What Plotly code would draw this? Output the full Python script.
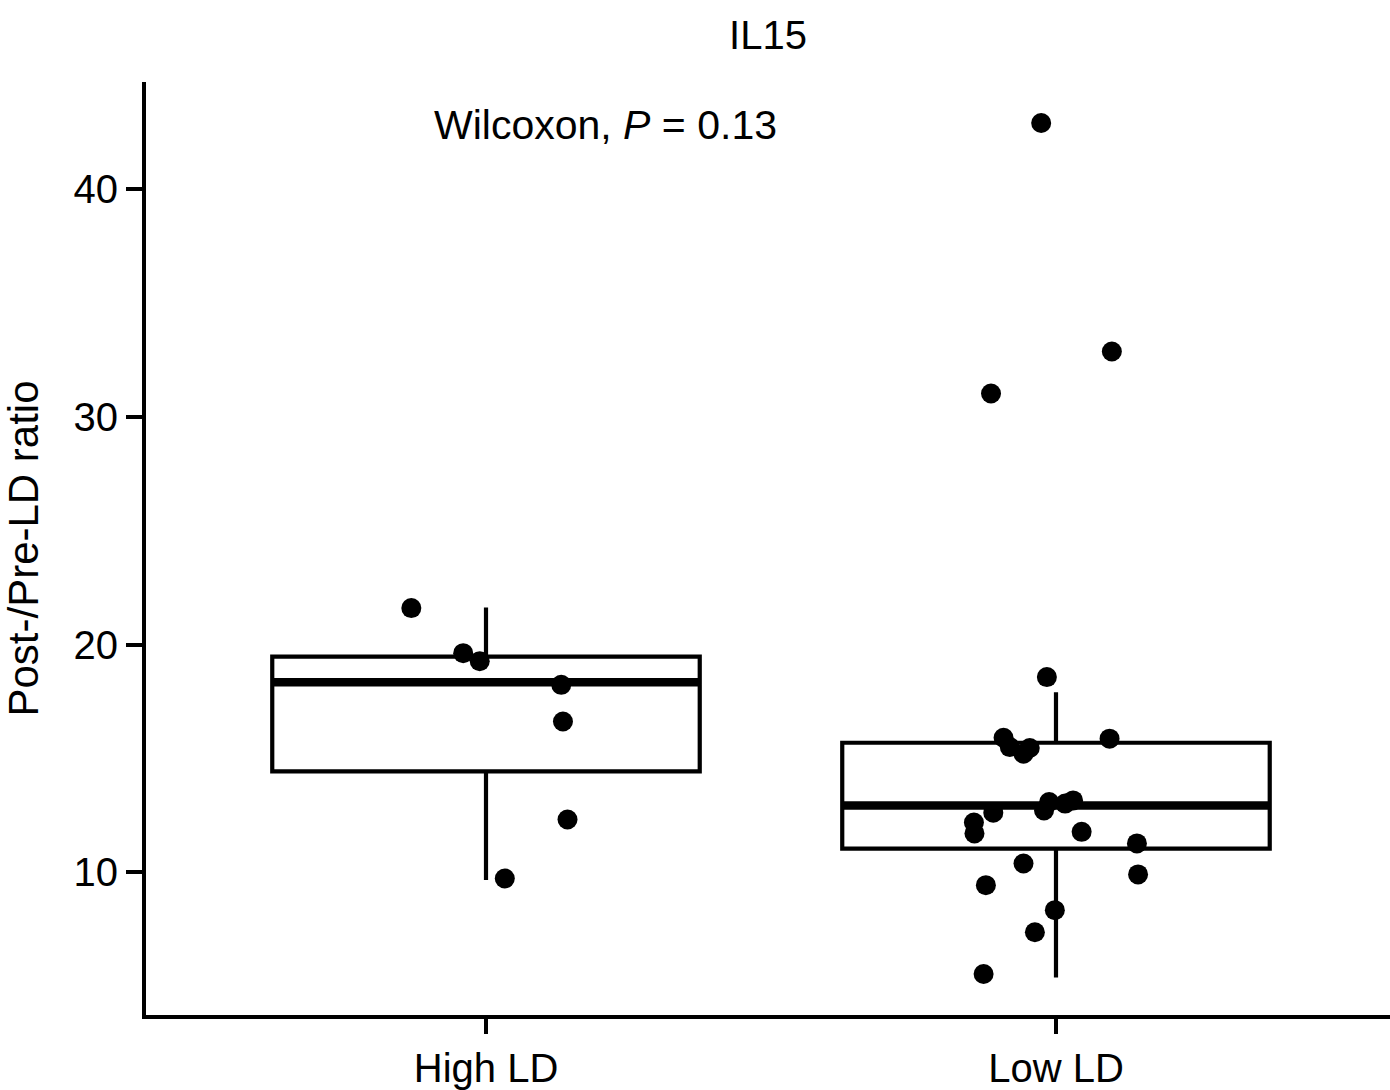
import plotly.graph_objects as go

# Groups and their positions on the numeric x axis
groups = ["High LD", "Low LD"]
group_pos = [0, 1]

# Per-sample post/pre ratios
high_ld = [21.60, 19.62, 19.27, 18.23, 16.62, 12.32, 9.73]
low_ld = [18.57, 15.91, 15.50, 15.21, 15.46, 15.87, 13.09, 12.72, 13.02, 13.16,
          12.62, 12.19, 11.71, 11.78, 11.27, 10.39, 9.91, 9.44, 8.34, 7.37,
          5.54, 42.89, 32.86, 31.02]

# Horizontal jitter of each sample around its group centre
high_jitter = [-0.131, -0.040, -0.011, 0.132, 0.135, 0.143, 0.033]
low_jitter = [-0.016, -0.092, -0.081, -0.057, -0.046, 0.094, -0.012, -0.021, 0.016, 0.030,
              -0.110, -0.144, -0.143, 0.045, 0.142, -0.057, 0.144, -0.123, -0.002, -0.037,
              -0.127, -0.026, 0.098, -0.114]

# Box summaries per group
box_q1 = [14.43, 11.04]
box_median = [18.35, 12.93]
box_q3 = [19.47, 15.69]
box_lower = [9.66, 5.39]
box_upper = [21.63, 17.91]

y_ticks = [10, 20, 30, 40]
title_text = "IL15"
y_title = "Post-/Pre-LD ratio"
test_label = "Wilcoxon, <i>P</i> = 0.13"

BOX_WIDTH = 0.75
FONT = "Liberation Sans, Arial, sans-serif"

fig = go.Figure()

fig.add_trace(go.Box(
    x=group_pos,
    q1=box_q1,
    median=box_median,
    q3=box_q3,
    lowerfence=box_lower,
    upperfence=box_upper,
    width=BOX_WIDTH,
    whiskerwidth=0,
    fillcolor="white",
    line=dict(color="black", width=4.2),
    boxpoints=False,
    hoverinfo="skip",
    showlegend=False,
))

# Thick median bars drawn over the boxes
med_x, med_y = [], []
for pos, med in zip(group_pos, box_median):
    med_x += [pos - BOX_WIDTH / 2, pos + BOX_WIDTH / 2, None]
    med_y += [med, med, None]
fig.add_trace(go.Scatter(
    x=med_x, y=med_y, mode="lines",
    line=dict(color="black", width=8.5),
    hoverinfo="skip", showlegend=False,
))

# Jittered sample points
pt_x = [group_pos[0] + j for j in high_jitter] + [group_pos[1] + j for j in low_jitter]
pt_y = high_ld + low_ld
fig.add_trace(go.Scatter(
    x=pt_x, y=pt_y, mode="markers",
    marker=dict(color="black", size=20, line=dict(width=0)),
    showlegend=False,
))

fig.add_annotation(
    x=0.21, y=42.8, xref="x", yref="y",
    text=test_label, showarrow=False,
    xanchor="center", yanchor="middle",
    font=dict(family=FONT, size=41, color="black"),
)

fig.update_layout(
    width=1390, height=1090,
    margin=dict(l=146, r=0, t=82, b=73),
    paper_bgcolor="white", plot_bgcolor="white",
    font=dict(family=FONT, color="black"),
    title=dict(
        text=title_text, x=0.5, xref="paper", xanchor="center",
        y=1 - 35 / 1090, yref="container", yanchor="middle",
        font=dict(family=FONT, size=40, color="black"),
    ),
    showlegend=False,
)

fig.update_xaxes(
    range=[-0.5965, 1.586],
    tickmode="array", tickvals=group_pos, ticktext=groups,
    ticks="outside", ticklen=15, tickwidth=4, tickcolor="black",
    showline=True, linewidth=4, linecolor="black",
    showgrid=False, zeroline=False,
    tickfont=dict(family=FONT, size=40, color="black"),
)
fig.update_yaxes(
    range=[3.74, 44.69],
    tickmode="array", tickvals=y_ticks,
    ticks="outside", ticklen=16, tickwidth=4, tickcolor="black",
    showline=True, linewidth=4, linecolor="black",
    showgrid=False, zeroline=False,
    tickfont=dict(family=FONT, size=40, color="black"),
    title=dict(text=y_title, font=dict(family=FONT, size=42, color="black"), standoff=24),
)

fig.write_html("out.html")
